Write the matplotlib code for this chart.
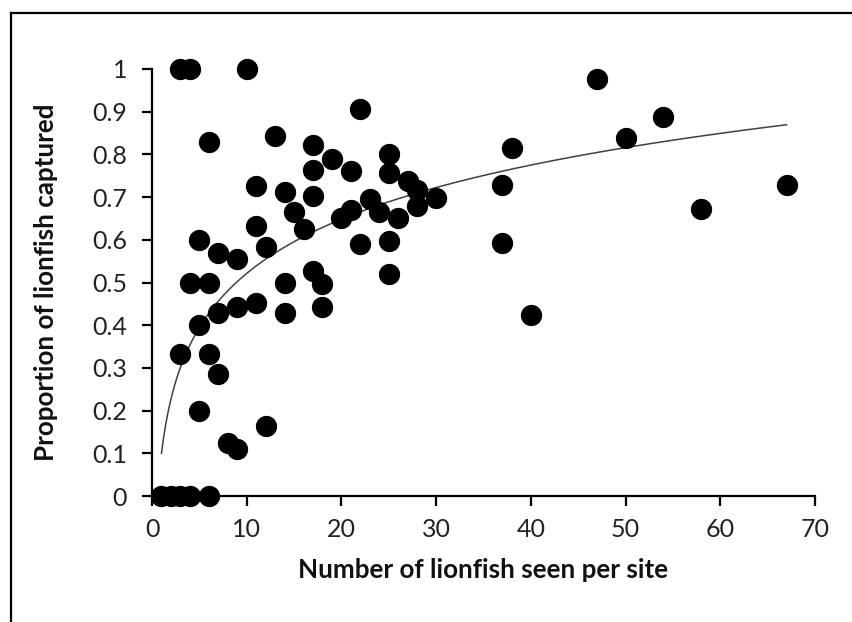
import numpy as np
import matplotlib.pyplot as plt
from matplotlib.lines import Line2D

# Datos
lionfish_seen = [3, 4, 10, 47, 22, 54, 13, 6, 17, 50, 38, 19, 25, 17, 21, 25, 27, 28,
                 11, 14, 37, 67, 17, 30, 23, 24, 28, 15, 21, 20, 26, 58, 11, 16, 12,
                 22, 25, 37, 5, 7, 9, 17, 25, 4, 6, 14, 18, 11, 9, 18, 7, 14, 40, 5,
                 3, 6, 7, 5, 12, 8, 9, 1, 2, 3, 4, 6]
prop_captured = [1.0, 1.0, 1.0, 0.977, 0.907, 0.887, 0.842, 0.83, 0.821, 0.838, 0.814,
                 0.789, 0.80, 0.764, 0.76, 0.756, 0.738, 0.716, 0.726, 0.713, 0.728,
                 0.728, 0.703, 0.697, 0.695, 0.665, 0.679, 0.665, 0.67, 0.65, 0.652,
                 0.672, 0.633, 0.625, 0.582, 0.589, 0.598, 0.592, 0.60, 0.570, 0.554,
                 0.528, 0.52, 0.5, 0.5, 0.5, 0.497, 0.453, 0.443, 0.443, 0.428, 0.428,
                 0.425, 0.4, 0.333, 0.333, 0.286, 0.2, 0.165, 0.125, 0.111,
                 0.0, 0.0, 0.0, 0.0, 0.0]

# Línea de tendencia logarítmica (y = a ln x + b)
trend_a, trend_b = 0.183, 0.10
trend_x = np.linspace(1, 67, 300)

x_ticks = [0, 10, 20, 30, 40, 50, 60, 70]
y_ticks = [0, 0.1, 0.2, 0.3, 0.4, 0.5, 0.6, 0.7, 0.8, 0.9, 1]
y_labels = ['0', '0.1', '0.2', '0.3', '0.4', '0.5', '0.6', '0.7', '0.8', '0.9', '1']

plt.rcParams['font.family'] = ['Lato', 'DejaVu Sans']

fig = plt.figure(figsize=(8.53, 6.22), dpi=100)
ax = fig.add_axes([152 / 853, 1 - 496 / 622, 663 / 853, 427 / 622])

ax.plot(trend_x, trend_a * np.log(trend_x) + trend_b, color='#404040', lw=1.1, zorder=2)
ax.scatter(lionfish_seen, prop_captured, s=205, color='black', zorder=3, clip_on=False)

ax.set_xlim(0, 70)
ax.set_ylim(0, 1)
ax.set_xticks(x_ticks)
ax.set_yticks(y_ticks)
ax.set_yticklabels(y_labels)

for s in ['top', 'right']:
    ax.spines[s].set_visible(False)
for s in ['left', 'bottom']:
    ax.spines[s].set_linewidth(1.6)
ax.tick_params(direction='out', length=7, width=1.6, labelsize=18, color='black',
               labelcolor='#222222')
ax.tick_params(axis='y', pad=11)
ax.tick_params(axis='x', pad=9)

ax.set_xlabel('Number of lionfish seen per site', fontsize=18.7, fontweight='bold',
              color='#111111', va='baseline')
ax.set_ylabel('Proportion of lionfish captured', fontsize=18.7, fontweight='bold',
              color='#111111', va='baseline')
ax.xaxis.set_label_coords(0.5, -(578 - 496) / 427)
ax.yaxis.set_label_coords(-(152 - 54) / 663, 0.5)

# Marco exterior (solo arriba e izquierda)
fig.add_artist(Line2D([11.5 / 853, 1], [1 - 12.5 / 622, 1 - 12.5 / 622],
                      transform=fig.transFigure, color='black', lw=1.6))
fig.add_artist(Line2D([11.5 / 853, 11.5 / 853], [0, 1 - 12.5 / 622],
                      transform=fig.transFigure, color='black', lw=1.6))

fig.savefig('out.png', dpi=100)
